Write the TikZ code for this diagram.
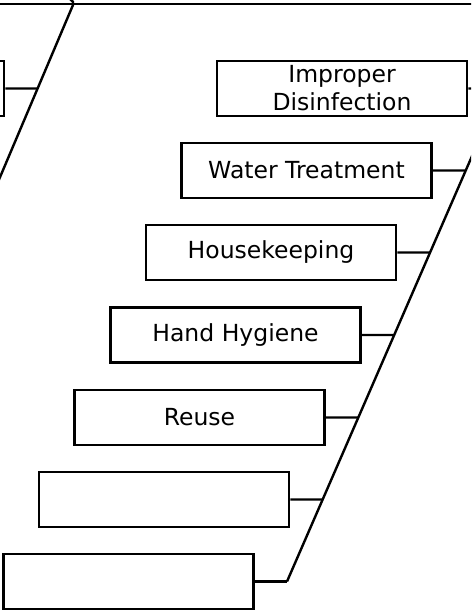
\documentclass[tikz,border=0pt]{standalone}
\usepackage{fontspec}
\setmainfont{DejaVu Sans}
\begin{document}
\begin{tikzpicture}[x=1pt,y=-1pt,
  catbox/.style={draw, line width=2.5pt, minimum width=250pt, minimum height=55pt,
    inner sep=0pt, align=center, font=\fontsize{23.5}{28}\selectfont},
  bone/.style={line width=2.4pt}]
\useasboundingbox (0,0) rectangle (471,612);
\clip (0,0) rectangle (471,612);

% spines
\coordinate (rt) at (538,4.3);
\coordinate (rb) at (287,581.5);
\coordinate (lt) at (73,5);
\coordinate (lb) at (-12,205.5);
\coordinate (topL) at (-10,4.3);
\coordinate (topR) at (480,4.3);

% boxes
\node[catbox] (imp) at (342,88.5) {Improper\\Disinfection};
\node[catbox] (wt)  at (306.5,170.5) {Water Treatment};
\node[catbox] (hk)  at (271,252.5) {Housekeeping};
\node[catbox] (hh)  at (235.5,335) {Hand Hygiene};
\node[catbox] (re)  at (199.5,417.5) {Reuse};
\node[catbox] (b1)  at (164,499.5) {};
\node[catbox] (b2)  at (128.5,581.5) {};
\node[catbox] (lbox) at (-121,88.5) {};
\coordinate (ltick) at (-20,170);

% main lines
\draw[bone] (topL) -- (topR);
\draw[bone] (rt) -- (rb);
\draw[bone] (lb) -- (lt) .. controls (74.5,3) and (72.5,0.5) .. (70,-1);

% connectors
\foreach \b in {imp,wt,hk,hh,re,b1}
  \draw[bone] (\b.east) -- (intersection of \b.east--\b.west and rt--rb);
\draw[bone] (b2.east) -- (rb);
\draw[bone] (lbox.east) -- (intersection of lbox.east--lbox.west and lt--lb);
\draw[bone] (ltick) -- (intersection of ltick--lbox.east and lt--lb);
\end{tikzpicture}
\end{document}
